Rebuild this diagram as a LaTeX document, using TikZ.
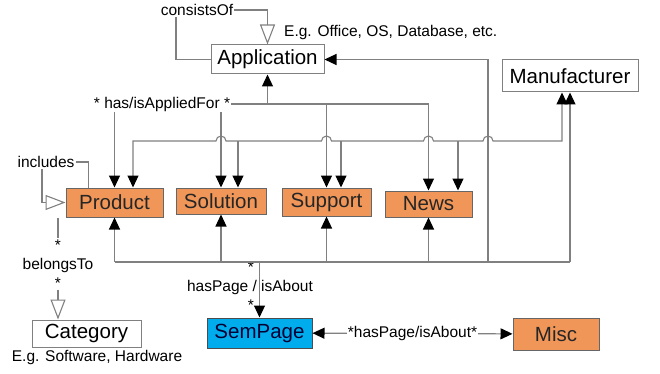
\documentclass[tikz,border=0pt]{standalone}
\usepackage{fontspec}
\setmainfont{Liberation Sans}
\usetikzlibrary{arrows.meta}
\definecolor{boxorange}{RGB}{240,150,88}
\definecolor{boxblue}{RGB}{0,172,236}
\definecolor{linegray}{RGB}{128,128,128}
\tikzset{
	classnode/.style = {
		align=center,
		inner sep=0pt,
		text centered,
		font=\fontsize{20.5}{24}\selectfont,
		draw=linegray,
		line width=1pt
	},
	node_w/.style = {
		classnode,
		fill=white
	},
	node_o/.style = {
		classnode,
		fill=boxorange,
		draw=black!60,
		text=black!85
	},
	node_c/.style = {
		classnode,
		fill=boxblue,
		draw=black!70,
		text=black!80!blue
	},
	lbl/.style = {
		inner sep=1pt,
		font=\fontsize{15.5}{19}\selectfont
	},
	lbl_w/.style = {
		lbl,
		fill=white
	},
	conn/.style = {
		draw=linegray,
		line width=1.1pt
	},
	gen/.style = {
		conn,
		-{Triangle[open,length=20pt,width=15pt]}
	},
}

\begin{document}
\begin{tikzpicture}[x=1pt,y=-1pt,>={Triangle[length=12pt,width=11pt,color=black]}]
\useasboundingbox (0,0) rectangle (660,374);
\node [node_w, minimum width=113pt, minimum height=29pt] (app) at (267.5,59.5) {Application};
\node [node_w, minimum width=136pt, minimum height=32pt] (mfr) at (570,76) {Manufacturer};
\node [node_o, minimum width=97pt, minimum height=29pt] (prod) at (114.5,202.5) {Product};
\node [node_o, minimum width=90pt, minimum height=26pt] (sol) at (221,201) {Solution};
\node [node_o, minimum width=89pt, minimum height=28pt] (sup) at (326.5,202) {Support};
\node [node_o, minimum width=87pt, minimum height=26pt] (news) at (428.5,204) {News};
\node [node_w, minimum width=109pt, minimum height=27pt] (cat) at (86.5,333.5) {Category};
\node [node_c, minimum width=105pt, minimum height=30pt] (page) at (259.5,333) {SemPage};
\node [node_o, minimum width=86pt, minimum height=32pt] (misc) at (556,334) {Misc};

\node [lbl] (l_cons) at (197,10) {consistsOf};
\node [lbl, anchor=west] (l_eg1) at (283,32) {E.g. Office, OS, Database, etc.};
\node [lbl_w] (l_appl) at (162,104) {* has/isAppliedFor *};
\node [lbl] (l_incl) at (46,162) {includes};
\node [lbl, align=center] (l_bel) at (58,264) {*\\belongsTo\\*};
\node [lbl] (l_eg2) at (97,357) {E.g. Software, Hardware};
\node [lbl] (l_s1) at (251,267) {*};
\node [lbl] (l_hp) at (250,287) {hasPage / isAbout};
\node [lbl] (l_s2) at (251,305) {*};

\coordinate (bus_a) at (267.5,104);
\coordinate (bus_m) at (133,141);
\coordinate (bus_p) at (259.5,262);
\coordinate (bus_r) at (488,262);
\coordinate (bel_top) at (58,218);
\coordinate (m_sol) at ([xshift=17pt]sol.north);
\coordinate (m_sup) at ([xshift=14.5pt]sup.north);
\coordinate (m_news) at ([xshift=29.5pt]news.north);
\coordinate (m_mfr) at ([xshift=-8pt]mfr.south);

\draw [gen] (l_cons.east) -| (app.north);
\draw [conn] ([xshift=-21pt]l_cons.south) |- (app.west);

\draw [conn] (l_incl.east) -| ([xshift=-26pt]prod.north);
\draw [gen] ([xshift=-4pt]l_incl.south) |- (prod.west);

\draw [conn] (bel_top) -- (l_bel);
\draw [gen] (l_bel) -- (l_bel |- cat.north);

\draw [->, conn] (bus_a) -- (app.south);
\draw [conn] (l_appl.east) -- (bus_a);
\draw [->, conn] (bus_a) -| (news.north);
\draw [->, conn] (bus_a -| sup.north) -- (sup.north);
\draw [->, conn] (l_appl.south -| prod.north) -- (prod.north);
\draw [->, conn] (l_appl.south -| sol.north) -- (sol.north);

\draw [<->, conn] (prod.north -| bus_m) -- (bus_m) -- (216,141)
	arc [start angle=180, end angle=0, radius=5pt] -- (321.5,141)
	arc [start angle=180, end angle=0, radius=5pt] -- (423.5,141)
	arc [start angle=180, end angle=0, radius=5pt] -- (483,141)
	arc [start angle=180, end angle=0, radius=5pt] -- (m_mfr |- bus_m) -- (m_mfr);
\draw [->, conn] (m_sol |- bus_m) -- (m_sol);
\draw [->, conn] (m_sup |- bus_m) -- (m_sup);
\draw [->, conn] (m_news |- bus_m) -- (m_news);

\draw [conn] (prod.south |- bus_p) -- (mfr.south |- bus_p);
\draw [->, conn] (prod.south |- bus_p) -- (prod.south);
\draw [->, conn] (sol.south |- bus_p) -- (sol.south);
\draw [->, conn] (sup.south |- bus_p) -- (sup.south);
\draw [->, conn] (news.south |- bus_p) -- (news.south);
\draw [->, conn] (mfr.south |- bus_p) -- (mfr.south);
\draw [->, conn] (bus_r) |- (app.east);
\draw [->, conn] (bus_p) -- (page.north);

\draw [<->, conn] (page) -- node [lbl_w] (l_misc) {*hasPage/isAbout*} (misc);
\end{tikzpicture}
\end{document}
